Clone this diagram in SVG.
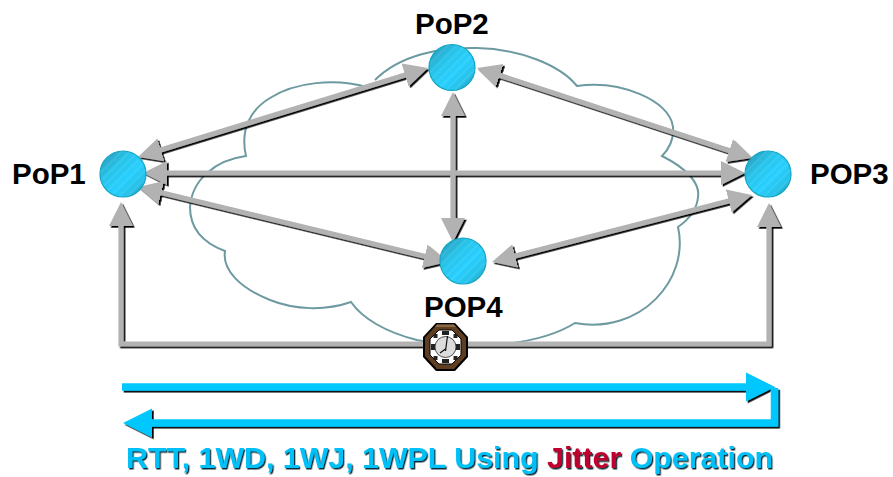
<svg xmlns="http://www.w3.org/2000/svg" width="893" height="477" viewBox="0 0 893 477">
<style>
.lbl{font-family:"Liberation Sans",Arial,sans-serif;font-weight:bold;font-size:29.500px;fill:#000}
.ball{fill:url(#ballFill);stroke:#0fa5c4;stroke-width:1.2}
.hatch{fill:url(#stripes)}
.gl{fill:none;stroke:#b2b2b2;stroke-width:5.200;marker-start:url(#gh);marker-end:url(#gh)}
.cy{fill:none;stroke:#00c8ff;stroke-width:7.500;marker-end:url(#ch)}
.cap{font-family:"Liberation Sans",Arial,sans-serif;font-weight:bold;font-size:29px;fill:#00c0f8}
</style>
<defs>
<linearGradient id="ballFill" x1="0.1" y1="0.1" x2="0.9" y2="0.9">
<stop offset="0" stop-color="#2b9fc0"/><stop offset="0.3" stop-color="#27c4ea"/><stop offset="0.6" stop-color="#27cfff"/><stop offset="0.85" stop-color="#25c2ea"/><stop offset="1" stop-color="#2a9fc0"/>
</linearGradient>
<pattern id="stripes" width="6" height="6" patternUnits="userSpaceOnUse" patternTransform="rotate(-45)">
<rect width="6" height="2" fill="#fff" fill-opacity="0.08"/>
</pattern>
<marker id="gh" markerUnits="userSpaceOnUse" markerWidth="26" markerHeight="26" refX="2" refY="12" orient="auto-start-reverse">
<path d="M0 0L24 12L0 24Z" fill="#b2b2b2"/>
</marker>
<marker id="ch" markerUnits="userSpaceOnUse" markerWidth="32" markerHeight="32" refX="2" refY="15" orient="auto-start-reverse">
<path d="M0 0.500L29 15L0 29.500Z" fill="#00c8ff"/>
</marker>
<filter id="sh" filterUnits="userSpaceOnUse" x="0" y="0" width="893" height="477"><feDropShadow dx="1.700" dy="1.700" stdDeviation="0" flood-color="#000"/></filter>
<filter id="tsh" filterUnits="userSpaceOnUse" x="0" y="0" width="893" height="477"><feDropShadow dx="1.300" dy="1.500" stdDeviation="0.300" flood-color="#0a2a35"/></filter>
</defs>
<rect width="893" height="477" fill="#fff"/>
<g id="cloud"><path d="M375 80C400 55 440 47 477 48C520 49 560 65 577 86C620 80 670 100 673 127C674 140 668 150 662 156C690 170 700 185 698 197C697 210 688 220 678 227C690 280 640 335 575 323C540 345 470 352 417 340C385 332 362 318 351 302C325 311 295 310 270 300C240 288 222 270 225 251C195 240 190 220 190 207C192 180 215 160 246 156C240 130 250 110 270 98C295 82 335 78 367 87" fill="none" stroke="#6d9aa0" stroke-width="2"/></g>
<g id="connectors" filter="url(#sh)">
<path class="gl" d="M159 150.500L407 74.400"/>
<path class="gl" d="M497.900 74.800L731.100 151.200"/>
<path class="gl" d="M165 173L723 173"/>
<path class="gl" d="M159.400 192.200L426.600 256.800"/>
<path class="gl" d="M513.300 256.500L730.700 200.500"/>
<path class="gl" d="M453 114L453 220"/>
<path class="gl" d="M121 224L121 344L769 344L769 225"/>
</g>
<g id="flow" filter="url(#sh)">
<path class="cy" d="M774.500 388L774.500 423L150 423"/>
<path class="cy" d="M122 387L748 387"/>
</g>
<g id="pop1"><circle class="ball" cx="123" cy="174" r="23"/><circle class="hatch" cx="123" cy="174" r="23"/><text class="lbl" x="12" y="184">PoP1</text></g>
<g id="pop2"><circle class="ball" cx="452" cy="67.500" r="23"/><circle class="hatch" cx="452" cy="67.500" r="23"/><text class="lbl" x="415" y="34">PoP2</text></g>
<g id="pop3"><circle class="ball" cx="768" cy="174" r="23"/><circle class="hatch" cx="768" cy="174" r="23"/><text class="lbl" x="810" y="184">POP3</text></g>
<g id="pop4"><circle class="ball" cx="463" cy="261" r="23"/><circle class="hatch" cx="463" cy="261" r="23"/><text class="lbl" x="424" y="317">POP4</text></g>
<g id="clock">
<polygon points="436,323 455,323 468,337 468,357 455,371 436,371 423,357 423,337" fill="#000"/>
<polygon points="437,324.500 454,324.500 466,337.500 466,356 454,369 437,369 425,356 425,337.500" fill="#5f3d20"/>
<polygon points="437,324.500 454,324.500 456,327 435,327" fill="#8a6a45"/>
<polygon points="439,330 452,330 461,339 461,355 452,364 439,364 430,355 430,339" fill="#fff" stroke="#000"/>
<circle cx="445.500" cy="347" r="10.500" fill="#dcdcdc" stroke="#222" stroke-width="0.800"/>
<g fill="#222"><rect x="442" y="331" width="7" height="4"/><rect x="442" y="359" width="7" height="4"/><rect x="431" y="344" width="4" height="6"/><rect x="456" y="344" width="4" height="6"/><rect x="433.500" y="334" width="4" height="4"/><rect x="453.500" y="334" width="4" height="4"/><rect x="433.500" y="356" width="4" height="4"/><rect x="453.500" y="356" width="4" height="4"/></g>
<path d="M445.500 351L447.500 336M445.500 349L440 353" stroke="#111" stroke-width="1.200" fill="none"/>
</g>
<g id="caption" filter="url(#tsh)"><text class="cap" x="126" y="468" textLength="647" lengthAdjust="spacingAndGlyphs">RTT, 1WD, 1WJ, 1WPL Using <tspan fill="#c0002e">Jitter</tspan> Operation</text></g>
</svg>
